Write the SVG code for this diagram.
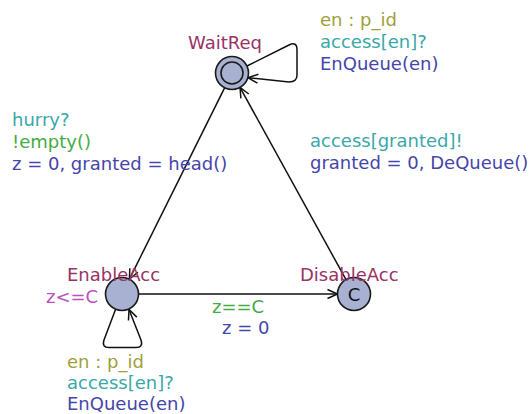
<svg xmlns="http://www.w3.org/2000/svg" width="531" height="414" viewBox="0 0 531 414">
  <style>
    text { font-family: "DejaVu Sans", "Liberation Sans", sans-serif; font-size: 18px; }
    .loc { fill: #a8b1d1; stroke: #1a1a1a; stroke-width: 1.6; }
    .inner { fill: none; stroke: #1a1a1a; stroke-width: 1.6; }
    .edge { fill: none; stroke: #111; stroke-width: 1.5; }
    .name { fill: #993366; }
    .select { fill: #a0a03a; }
    .sync { fill: #3aa8a8; }
    .update { fill: #4545aa; }
    .guard { fill: #44ab44; }
    .inv { fill: #bb4fc0; }
    .mark { fill: #111; }
  </style>
  <defs>
    <marker id="arrow" markerUnits="userSpaceOnUse" markerWidth="14" markerHeight="14" viewBox="-12 -7 14 14" refX="0" refY="0" orient="auto">
      <path d="M -10 -4.5 L 0 0 L -10 4.5" fill="none" stroke="#111" stroke-width="1.5"/>
    </marker>
  </defs>

  <!-- transitions -->
  <g id="edges">
    <!-- WaitReq -> EnableAcc -->
    <line class="edge" x1="224.6" y1="87.8" x2="129.4" y2="279.2" marker-end="url(#arrow)"/>
    <!-- DisableAcc -> WaitReq -->
    <line class="edge" x1="346" y1="279.6" x2="240" y2="87.4" marker-end="url(#arrow)"/>
    <!-- EnableAcc -> DisableAcc -->
    <line class="edge" x1="138.5" y1="294" x2="337.5" y2="294" marker-end="url(#arrow)"/>
    <!-- WaitReq self loop -->
    <path class="edge" d="M 247 66 L 289 45 Q 297 41 297 50 L 297 75 Q 297 82 289 82 L 248 77.7" marker-end="url(#arrow)"/>
    <!-- EnableAcc self loop -->
    <path class="edge" d="M 115.5 309.5 L 104 340 Q 101.5 347.5 109 347.5 L 136 347.5 Q 143.5 347.5 141 340 L 129 309.5" marker-end="url(#arrow)"/>

    <!-- WaitReq self loop labels -->
    <text class="select" x="320" y="26">en : p_id</text>
    <text class="sync" x="320" y="48">access[en]?</text>
    <text class="update" x="320" y="70">EnQueue(en)</text>

    <!-- WaitReq -> EnableAcc labels -->
    <text class="sync" x="12" y="126">hurry?</text>
    <text class="guard" x="12" y="148">!empty()</text>
    <text class="update" x="12" y="170">z = 0, granted = head()</text>

    <!-- DisableAcc -> WaitReq labels -->
    <text class="sync" x="310" y="147">access[granted]!</text>
    <text class="update" x="310" y="169">granted = 0, DeQueue()</text>

    <!-- EnableAcc -> DisableAcc labels -->
    <text class="guard" x="212" y="313">z==C</text>
    <text class="update" x="222" y="334">z = 0</text>

    <!-- EnableAcc self loop labels -->
    <text class="select" x="67" y="368">en : p_id</text>
    <text class="sync" x="67" y="389">access[en]?</text>
    <text class="update" x="67" y="410">EnQueue(en)</text>
  </g>

  <!-- locations -->
  <g id="WaitReq">
    <circle class="loc" cx="232" cy="73" r="16.5"/>
    <circle class="inner" cx="232" cy="73" r="11"/>
    <text class="name" x="188" y="49">WaitReq</text>
  </g>

  <g id="EnableAcc">
    <circle class="loc" cx="122" cy="294" r="16.5"/>
    <text class="name" x="67" y="281">EnableAcc</text>
    <text class="inv" x="46" y="303">z&lt;=C</text>
  </g>

  <g id="DisableAcc">
    <circle class="loc" cx="354" cy="294" r="16.5"/>
    <text class="mark" x="354" y="300.5" text-anchor="middle">C</text>
    <text class="name" x="300" y="281">DisableAcc</text>
  </g>
</svg>
